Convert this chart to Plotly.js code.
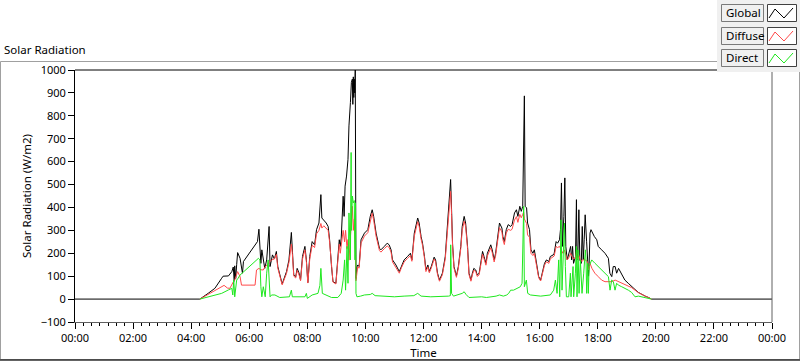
<!DOCTYPE html>
<html>
<head>
<meta charset="utf-8">
<script src="https://cdn.plot.ly/plotly-3.0.1.min.js"></script>
<style>
html,body{margin:0;padding:0;background:#fff;}
#chart{width:800px;height:361px;}
</style>
</head>
<body>
<div id="chart"></div>
<script>
// ---- data (minutes after midnight, W/m2) ----
const tickMinutes = [0,120,240,360,480,600,720,840,960,1080,1200,1320,1440];
const tickLabels = ["00:00","02:00","04:00","06:00","08:00","10:00","12:00","14:00","16:00","18:00","20:00","22:00","00:00"];

const globalT = [
  0, 258, 275, 289, 303, 306, 317, 320, 324, 327,
  329, 330, 332, 334, 336, 341, 344, 346, 348, 372,
  377, 380, 382, 384, 386, 389, 392, 396, 399, 401,
  403, 408, 412, 416, 419, 423, 428, 437, 442, 447,
  449, 452, 456, 459, 463, 466, 470, 475, 478, 481,
  485, 490, 495, 499, 504, 508, 510, 514, 519, 523,
  526, 530, 533, 539, 542, 546, 548, 550, 554, 556,
  558, 561, 564, 566, 569, 571, 573, 574, 575, 576,
  577, 578, 579, 580.5, 582.5, 584, 587, 591, 598, 605,
  610, 614, 617, 622, 629, 632, 639, 645, 649, 653,
  656, 663, 670, 674, 680, 687, 693, 696, 701, 708,
  711, 715, 718, 722, 725, 729, 732, 736, 742, 745,
  749, 753, 759, 765, 769, 773, 776, 778, 780, 783,
  788, 792, 797, 800, 804, 807, 811, 814, 818, 821,
  824, 828, 831, 835, 842, 845, 849, 852, 859, 862,
  866, 869, 873, 877, 882, 884, 887, 891, 895, 900,
  903, 908, 912, 915, 919, 922, 925, 927, 928.4, 930,
  933, 935, 939, 942, 946, 949, 953, 958, 962, 965,
  970, 974, 979, 982, 988, 990, 994, 997, 1001, 1003,
  1005, 1007, 1010, 1012, 1014, 1017, 1020, 1024, 1026, 1028,
  1030, 1034, 1036, 1037, 1039, 1041, 1043, 1046, 1048, 1050,
  1052, 1054, 1057, 1059, 1061, 1062, 1064, 1066, 1069, 1073,
  1078, 1081, 1088, 1095, 1102, 1105, 1109, 1112, 1116, 1119,
  1123, 1130, 1136, 1143, 1150, 1157, 1164, 1171, 1178, 1185,
  1191, 1440
];
const globalV = [
  0, 0, 25, 47, 91, 100, 101, 110, 120, 140,
  78, 145, 90, 150, 203, 178, 130, 113, 164, 240,
  251, 305, 230, 156, 215, 164, 134, 171, 259, 317,
  142, 193, 175, 208, 142, 113, 66, 120, 171, 291,
  208, 105, 98, 134, 113, 83, 186, 230, 171, 72,
  186, 251, 237, 303, 332, 456, 354, 346, 332, 317,
  259, 142, 76, 69, 142, 259, 230, 266, 449, 361,
  493, 537, 610, 756, 858, 946, 960, 850, 970, 880,
  960, 900, 1000, 90, 140, 149, 142, 259, 288, 303,
  361, 390, 361, 288, 222, 215, 230, 244, 237, 215,
  171, 149, 120, 142, 171, 186, 200, 171, 288, 354,
  332, 273, 244, 186, 127, 149, 120, 142, 183, 171,
  113, 83, 113, 186, 317, 405, 522, 390, 244, 142,
  101, 142, 230, 317, 361, 332, 230, 113, 83, 113,
  134, 127, 105, 113, 208, 186, 156, 200, 237, 215,
  171, 200, 259, 332, 310, 273, 251, 303, 325, 317,
  325, 376, 390, 361, 405, 383, 405, 756, 887, 405,
  398, 332, 303, 215, 200, 215, 156, 98, 83, 113,
  156, 171, 164, 186, 193, 200, 251, 244, 259, 303,
  507, 230, 361, 529, 230, 171, 200, 230, 171, 230,
  156, 186, 434, 171, 200, 390, 171, 156, 317, 171,
  259, 368, 250, 142, 100, 142, 288, 303, 288, 273,
  259, 230, 215, 200, 178, 113, 98, 142, 142, 113,
  134, 105, 83, 69, 54, 42, 29, 20, 13, 7,
  0, 0
];

const diffuseT = [
  258, 275, 289, 303, 308, 315, 320, 327, 330, 336,
  341, 344, 372, 375, 380, 384, 389, 392, 399, 406,
  412, 416, 419, 423, 428, 437, 442, 447, 449, 452,
  456, 459, 463, 466, 470, 475, 478, 481, 485, 490,
  495, 499, 504, 508, 510, 514, 519, 523, 526, 530,
  533, 539, 542, 546, 548, 550, 554, 557, 559, 562,
  564, 566, 569, 571, 573, 575, 577, 579, 580.5, 584,
  587, 591, 598, 605, 610, 614, 617, 622, 629, 632,
  639, 645, 649, 653, 656, 663, 670, 674, 680, 687,
  693, 696, 701, 708, 711, 715, 718, 722, 725, 729,
  732, 736, 742, 745, 749, 753, 759, 765, 769, 773,
  776, 778, 780, 783, 788, 792, 797, 800, 804, 807,
  811, 814, 818, 821, 824, 828, 831, 835, 842, 845,
  849, 852, 859, 862, 866, 869, 873, 877, 882, 884,
  887, 891, 895, 900, 903, 908, 912, 915, 919, 922,
  925, 927, 928.4, 930, 933, 935, 939, 942, 946, 949,
  953, 958, 962, 965, 970, 974, 979, 982, 988, 990,
  994, 997, 1001, 1003, 1005, 1008, 1011, 1014, 1017, 1020,
  1024, 1027, 1030, 1034, 1036, 1038, 1041, 1044, 1048, 1052,
  1056, 1058, 1061, 1064, 1068, 1074, 1081, 1088, 1095, 1102,
  1109, 1116, 1123, 1130, 1136, 1150, 1157, 1164, 1178, 1191
];
const diffuseV = [
  0, 20, 40, 54, 60, 48, 47, 75, 83, 120,
  98, 61, 61, 127, 134, 128, 127, 139, 156, 171,
  175, 195, 135, 105, 62, 112, 160, 240, 200, 100,
  92, 125, 105, 80, 175, 215, 165, 70, 175, 235,
  225, 285, 300, 330, 310, 320, 310, 300, 250, 140,
  74, 66, 135, 240, 200, 230, 300, 250, 300, 220,
  260, 170, 260, 330, 405, 300, 350, 200, 80, 140,
  135, 245, 275, 290, 345, 375, 345, 275, 212, 205,
  220, 232, 225, 205, 162, 140, 113, 135, 162, 178,
  190, 165, 275, 338, 318, 262, 235, 178, 120, 140,
  115, 135, 175, 163, 106, 78, 106, 176, 300, 380,
  470, 370, 232, 135, 95, 135, 220, 300, 340, 318,
  220, 107, 78, 106, 126, 120, 99, 106, 196, 176,
  148, 188, 224, 203, 162, 190, 245, 312, 293, 260,
  238, 288, 305, 300, 305, 345, 360, 335, 370, 355,
  370, 380, 350, 340, 330, 280, 270, 200, 190, 200,
  148, 93, 79, 106, 148, 163, 156, 176, 183, 188,
  230, 225, 230, 220, 210, 200, 215, 190, 171, 180,
  200, 185, 175, 180, 210, 175, 190, 170, 165, 175,
  165, 165, 127, 156, 134, 113, 98, 83, 76, 76,
  76, 83, 76, 69, 61, 50, 39, 28, 13, 0
];

const directT = [
  258, 275, 289, 303, 317, 324, 326, 328, 330, 334,
  337, 341, 379, 382, 384, 386, 389, 393, 396, 399,
  403, 406, 413, 423, 443, 447, 449, 475, 478, 480,
  490, 502, 506, 508, 511, 519, 530, 543, 550, 554,
  557, 559, 562, 564, 566, 569, 570.5, 571, 573, 575,
  577, 578.5, 579.5, 580.5, 582.5, 590, 598, 610, 614, 620,
  640, 660, 680, 700, 708, 715, 735, 741, 760, 772,
  775.5, 776.2, 778, 782, 800, 804, 808, 814, 840, 850,
  870, 877, 885, 892, 896, 900, 906, 913, 920, 923.6,
  925.7, 927, 928.4, 930.5, 932.5, 935.3, 941, 962, 982, 989,
  992.5, 996, 999.3, 1001.4, 1004.2, 1006.2, 1008.3, 1011.1, 1013.1, 1015.2,
  1020, 1023.5, 1024.8, 1029, 1030.3, 1033.8, 1035.8, 1037.2, 1039.3, 1041.4,
  1044.1, 1047.5, 1051, 1054.4, 1055.8, 1057.1, 1059.2, 1060.6, 1062, 1064,
  1067.5, 1074.4, 1081.2, 1088, 1095, 1102, 1105.4, 1108.8, 1112.2, 1115.7,
  1119, 1122.6, 1129.5, 1136.3, 1143.2, 1150, 1153.6, 1157, 1164, 1178,
  1191
];
const directV = [
  0, 10, 18, 25, 40, 47, 18, 83, 10, 83,
  91, 105, 178, 171, 54, 10, 54, 10, 113, 171,
  10, 18, 18, 7, 10, 39, 10, 10, 25, 3,
  18, 25, 60, 134, 25, 18, 7, 7, 25, 83,
  171, 39, 230, 69, 376, 171, 640, 300, 450, 420,
  430, 171, 420, 25, 10, 13, 18, 20, 25, 15,
  13, 10, 13, 15, 25, 13, 10, 10, 10, 13,
  15, 237, 25, 13, 25, 32, 20, 7, 10, 7,
  13, 18, 13, 18, 25, 39, 39, 47, 54, 69,
  288, 405, 54, 69, 83, 25, 18, 13, 18, 39,
  83, 25, 171, 10, 346, 39, 200, 332, 142, 10,
  10, 113, 10, 142, 10, 113, 230, 10, 215, 25,
  171, 25, 113, 215, 171, 25, 156, 25, 142, 156,
  171, 156, 142, 127, 113, 98, 39, 83, 76, 39,
  69, 61, 54, 47, 39, 29, 18, 10, 13, 7,
  0
];

const seriesNames = ["Global", "Diffuse", "Direct"];
const seriesColors = ["#000000", "#ff4a4a", "#1ee81e"];

// ---- layout helpers (pixel -> paper) ----
const PL = 75, PR = 772, PT = 70, PB = 322;
const xp = px => (px - PL) / (PR - PL);
const yp = py => (PB - py) / (PB - PT);
const FONT = "Noto Sans";

const traces = [
  {x: globalT, y: globalV, name: seriesNames[0]},
  {x: diffuseT, y: diffuseV, name: seriesNames[1]},
  {x: directT, y: directV, name: seriesNames[2]}
].map((t, i) => Object.assign(t, {
  type: "scatter", mode: "lines",
  line: {color: seriesColors[i], width: 1},
  hoverinfo: "skip", showlegend: false
}));

const shapes = [];
const annotations = [];
// outer panel frame
shapes.push({type:"rect", xref:"paper", yref:"paper", x0:xp(0.5), x1:xp(799.5), y0:yp(359.5), y1:yp(61.5), line:{color:"#a0a0a0", width:1}, layer:"below"});
shapes.push({type:"line", xref:"paper", yref:"paper", x0:xp(0), x1:xp(800), y0:yp(360), y1:yp(360), line:{color:"#303030", width:1.5}});
// plot frame (top / right)
shapes.push({type:"line", xref:"paper", yref:"paper", x0:0, x1:1, y0:1, y1:1, line:{color:"#000", width:1}});
shapes.push({type:"line", xref:"paper", yref:"paper", x0:1, x1:1, y0:0, y1:1, line:{color:"#606060", width:1}});
// legend panel
shapes.push({type:"rect", xref:"paper", yref:"paper", x0:xp(717), x1:xp(800), y0:yp(72), y1:yp(0), fillcolor:"#f0f0f0", line:{width:0}});
const rowTops = [4, 27, 49];
rowTops.forEach((top, i) => {
  const bot = top + 17;
  shapes.push({type:"rect", xref:"paper", yref:"paper", x0:xp(721.5), x1:xp(763.5), y0:yp(bot+0.5), y1:yp(top+0.5), fillcolor:"#f0f0f0", line:{color:"#7a7a7a", width:1}});
  shapes.push({type:"rect", xref:"paper", yref:"paper", x0:xp(767.5), x1:xp(796.5), y0:yp(bot+0.5), y1:yp(top+0.5), fillcolor:"#ffffff", line:{color:"#404040", width:1}});
  const pts = [[769, bot-3], [775, top+5], [784, bot-3], [793, top+4]];
  const path = "M" + pts.map(p => xp(p[0]) + "," + yp(p[1])).join(" L");
  shapes.push({type:"path", xref:"paper", yref:"paper", path: path, line:{color: seriesColors[i], width:1}});
  annotations.push({xref:"paper", yref:"paper", x:xp(723.5), y:yp(top+8.5), xanchor:"left", yanchor:"middle", text: seriesNames[i], showarrow:false, font:{family:FONT, size:11.5, color:"#000"}});
});

const layout = {
  width: 800, height: 361,
  margin: {l: PL, r: 800 - PR, t: PT, b: 361 - PB, pad: 0},
  paper_bgcolor: "#ffffff", plot_bgcolor: "#ffffff",
  font: {family: FONT, size: 11, color: "#000"},
  title: {text: "Solar Radiation", xref: "container", yref: "container", x: 4/800, xanchor: "left", y: 1 - 50/361, yanchor: "middle", font: {family: FONT, size: 11.5, color: "#000"}},
  xaxis: {
    range: [0, 1440], tickmode: "array", tickvals: tickMinutes, ticktext: tickLabels,
    ticks: "outside", ticklen: 6, tickwidth: 1, tickcolor: "#000",
    minor: {tickmode: "linear", tick0: 0, dtick: 120/7, ticks: "outside", ticklen: 3, tickwidth: 1, tickcolor: "#000", showgrid: false},
    showline: true, linecolor: "#606060", linewidth: 1,
    showgrid: false, zeroline: false, automargin: false,
    tickfont: {family: FONT, size: 11, color: "#000"},
    title: {text: "Time", font: {family: FONT, size: 11.5, color: "#000"}, standoff: 4}
  },
  yaxis: {
    range: [-100, 1000], tickmode: "linear", tick0: 0, dtick: 100,
    ticks: "outside", ticklen: 6, tickwidth: 1, tickcolor: "#000",
    showline: true, linecolor: "#000", linewidth: 1,
    showgrid: false, zeroline: false, automargin: false,
    tickfont: {family: FONT, size: 11, color: "#000"},
    title: {text: "Solar Radiation (W/m2)", font: {family: FONT, size: 11.5, color: "#000"}, standoff: 6}
  },
  shapes: shapes,
  annotations: annotations,
  showlegend: false
};

Plotly.newPlot("chart", traces, layout, {staticPlot: true, displayModeBar: false});
</script>
</body>
</html>
